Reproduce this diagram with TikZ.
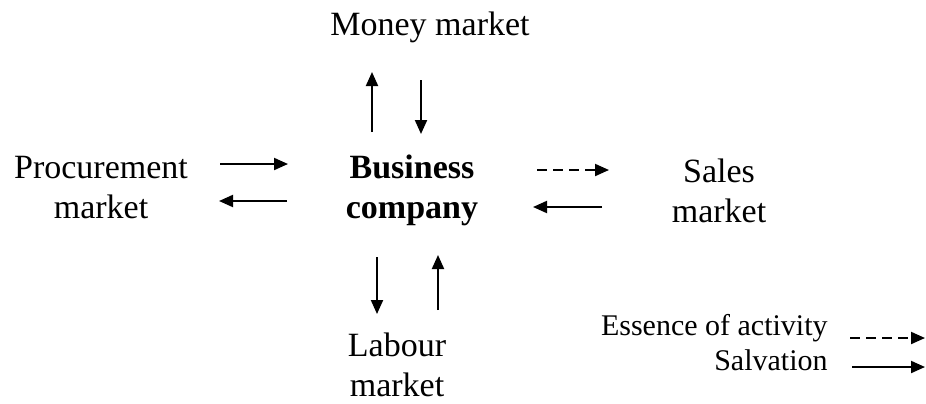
\documentclass[tikz,border=0pt]{standalone}
\usepackage{fontspec}
\setmainfont{Liberation Serif}
\usetikzlibrary{arrows.meta}
\tikzset{
	market/.style={align=center, anchor=base, inner sep=0pt, font=\fontsize{17}{20}\selectfont},
	legendtext/.style={anchor=base east, inner sep=0pt, font=\fontsize{15}{18}\selectfont},
	flow/.style={line width=1pt, -{Triangle[length=7pt,width=6pt]}},
	essence/.style={flow, dash pattern=on 5pt off 3pt}
}

\begin{document}
\begin{tikzpicture}[x=0.5pt, y=-0.5pt]
			%%%%% START %%%%%
			\useasboundingbox (0, 0) rectangle (926, 403);
			
			\node[market] (money) at (430, 35) {Money market};
			\node[market] (proc) at (101, 218) {Procurement\\market};
			\node[market, font=\fontsize{17}{20}\selectfont\bfseries] (firm) at (412, 218) {Business\\company};
			\node[market] (sales) at (719, 222) {Sales\\market};
			\node[market] (labour) at (397, 396) {Labour\\market};
			
			% arrow ends
			\coordinate (mu1) at (372, 132); \coordinate (mu2) at (372, 72);
			\coordinate (md1) at (421, 80); \coordinate (md2) at (421, 134);
			\coordinate (pr1) at (220, 164); \coordinate (pr2) at (288, 164);
			\coordinate (pl1) at (287, 201); \coordinate (pl2) at (219, 201);
			\coordinate (sr1) at (537, 170); \coordinate (sr2) at (609, 170);
			\coordinate (sl1) at (602, 207); \coordinate (sl2) at (533, 207);
			\coordinate (ld1) at (377, 257); \coordinate (ld2) at (377, 314);
			\coordinate (lu1) at (438, 310); \coordinate (lu2) at (438, 255);
			
			\draw[flow] (mu1) -- (mu2);
			\draw[flow] (md1) -- (md2);
			\draw[flow] (pr1) -- (pr2);
			\draw[flow] (pl1) -- (pl2);
			\draw[essence] (sr1) -- (sr2);
			\draw[flow] (sl1) -- (sl2);
			\draw[flow] (ld1) -- (ld2);
			\draw[flow] (lu1) -- (lu2);
			
			% legend
			\node[legendtext] (ess) at (828, 335) {Essence of activity};
			\node[legendtext] (salv) at (828, 370) {Salvation};
			\coordinate (e1) at (850, 338); \coordinate (e2) at (925, 338);
			\coordinate (s1) at (852, 367); \coordinate (s2) at (925, 367);
			\draw[essence] (e1) -- (e2);
			\draw[flow] (s1) -- (s2);
			
			%%%%% END %%%%%
\end{tikzpicture}
\end{document}
